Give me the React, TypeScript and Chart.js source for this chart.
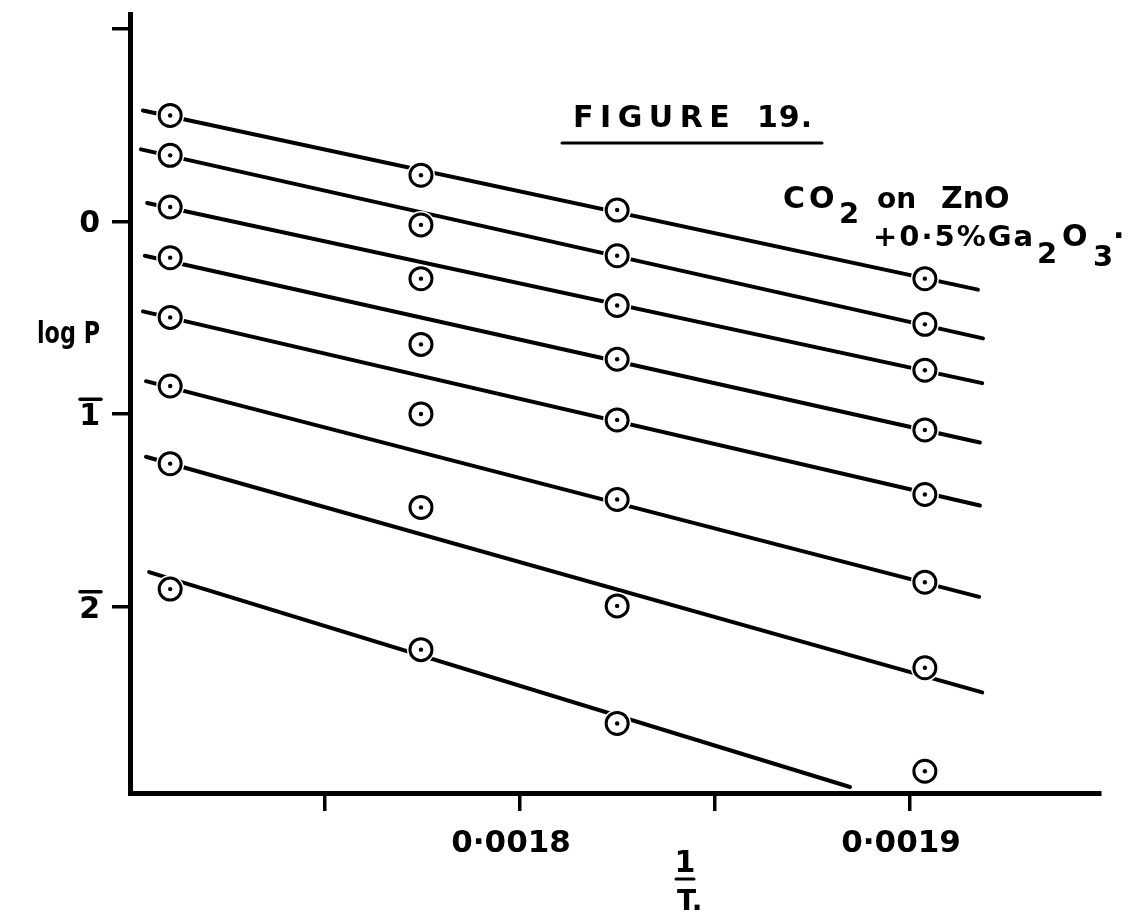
import React, { useEffect, useRef } from 'react';
import { Chart, registerables } from 'chart.js';

Chart.register(...registerables);

// 1/T values of the four temperature columns
const invT = [0.0017103, 0.0017746, 0.0018249, 0.0019038];

// log P readings in each column (top to bottom)
const logP_col1 = [0.55, 0.343, 0.075, -0.188, -0.498, -0.854, -1.257, -1.908];
const logP_col2 = [0.24, -0.018, -0.297, -0.638, -0.999, -1.484, -2.222];
const logP_col3 = [0.059, -0.178, -0.436, -0.715, -1.03, -1.443, -1.995, -2.605];
const logP_col4 = [-0.297, -0.534, -0.772, -1.082, -1.417, -1.872, -2.316, -2.853];
const columns = [logP_col1, logP_col2, logP_col3, logP_col4];

// straight lines drawn through the points (isosteres)
const fitStartX = [0.0017033, 0.0017028, 0.0017044, 0.0017038, 0.0017033, 0.0017041, 0.0017041, 0.0017049];
const fitStartY = [0.576, 0.374, 0.096, -0.178, -0.467, -0.829, -1.221, -1.82];
const fitEndX = [0.0019174, 0.0019187, 0.0019185, 0.0019179, 0.0019179, 0.0019177, 0.0019185, 0.0018846];
const fitEndY = [-0.354, -0.607, -0.839, -1.147, -1.474, -1.948, -2.444, -2.935];

// axis ticks
const xTickValues = [0.00175, 0.0018, 0.00185, 0.0019];
const xTickLabels = ['', '0·0018', '', '0·0019'];
const yTickValues = [1, 0, -1, -2];
const yTickLabels = ['', '0', '1', '2'];
// bar-notation (negative characteristic) marks on the y tick labels
const yTickBarred = [false, false, true, true];

const FONT = 'DejaVu Sans';
const Y_LABEL_OFFSET = 3;

const annotations = {
  id: 'annotations',
  afterDraw(chart: any) {
    const ctx = chart.ctx as CanvasRenderingContext2D;
    ctx.save();
    ctx.fillStyle = '#000';
    ctx.strokeStyle = '#000';
    ctx.textBaseline = 'alphabetic';
    const txt = (s: string, x: number, y: number, size: number, spacing = 0, align: CanvasTextAlign = 'left') => {
      ctx.font = `bold ${size}px "${FONT}"`;
      (ctx as any).letterSpacing = `${spacing}px`;
      ctx.textAlign = align;
      ctx.fillText(s, x, y);
    };
    const bar = (x1: number, x2: number, y: number, w = 3) => {
      ctx.lineWidth = w;
      ctx.lineCap = 'round';
      ctx.beginPath();
      ctx.moveTo(x1, y);
      ctx.lineTo(x2, y);
      ctx.stroke();
    };
    // overbars on y tick labels (bar notation for log characteristic)
    const ys = chart.scales.y;
    yTickValues.forEach((v, i) => {
      if (!yTickBarred[i]) return;
      const py = ys.getPixelForValue(v) + Y_LABEL_OFFSET;
      bar(80, 101, py - 18, 3.5);
    });
    // Title
    txt('FIGURE', 573, 127, 30, 6.5);
    txt('19.', 757, 127, 30, 1);
    bar(562, 822, 143, 3);
    // Sample description
    txt('CO', 783, 208, 30, 4);
    txt('2', 839, 223, 29, 0);
    txt('on', 877, 208, 28, 0);
    txt('ZnO', 941, 208, 30, 0);
    txt('+0·5%Ga', 873, 246, 29, 2);
    txt('2', 1037, 263, 29, 0);
    txt('O', 1062, 246, 30, 0);
    txt('3', 1093, 266, 29, 0);
    txt('·', 1113, 246, 30, 0);
    // y-axis label (tall, narrow lettering)
    ctx.save();
    ctx.translate(100, 343);
    ctx.scale(0.72, 1);
    txt('log P', 0, 0, 31, 0, 'right');
    ctx.restore();
    // x-axis label (1 over T.)
    txt('1', 685, 872, 30, 0, 'center');
    bar(676, 694, 879, 3);
    txt('T.', 677, 910, 28, 0, 'left');
    ctx.restore();
  },
};

export default function App() {
  const ref = useRef<HTMLCanvasElement | null>(null);

  useEffect(() => {
    if (!ref.current) return;
    const points: { x: number; y: number }[] = [];
    columns.forEach((col, i) => col.forEach((v) => points.push({ x: invT[i], y: v })));

    const lineSets = fitStartX.map((_, i) => ({
      type: 'line' as const,
      data: [
        { x: fitStartX[i], y: fitStartY[i] },
        { x: fitEndX[i], y: fitEndY[i] },
      ],
      borderColor: '#000',
      borderWidth: 4,
      borderCapStyle: 'round',
      pointRadius: 0,
      fill: false,
      order: 4,
    }));

    const chart = new Chart(ref.current, {
      type: 'scatter',
      data: {
        datasets: [
          ...lineSets,
          {
            data: points,
            pointRadius: 14,
            backgroundColor: '#fff',
            borderWidth: 0,
            order: 3,
          },
          {
            data: points,
            pointRadius: 11,
            backgroundColor: '#fff',
            borderColor: '#000',
            borderWidth: 3,
            order: 2,
          },
          {
            data: points,
            pointRadius: 2.2,
            backgroundColor: '#000',
            borderWidth: 0,
            order: 1,
          },
        ] as any,
      },
      options: {
        responsive: false,
        animation: false,
        events: [],
        layout: { padding: { top: 10, right: 41, left: 0, bottom: 0 } },
        plugins: { legend: { display: false }, tooltip: { enabled: false } },
        scales: {
          x: {
            type: 'linear',
            min: 0.0017,
            max: 0.0019487,
            afterBuildTicks: (s: any) => {
              s.ticks = xTickValues.map((v) => ({ value: v }));
            },
            afterFit: (s: any) => {
              s.height = 122;
              s.paddingLeft = 0;
              s.paddingRight = 0;
            },
            ticks: {
              callback: (_v: any, i: number) => xTickLabels[i],
              font: { family: FONT, size: 31, weight: 'bold' },
              color: '#000',
              padding: 14,
              labelOffset: -9,
              maxRotation: 0,
              autoSkip: false,
            },
            grid: { drawOnChartArea: false, drawTicks: true, tickLength: 18, lineWidth: 3.5, color: '#000' },
            border: { display: true, width: 5, color: '#000' },
          },
          y: {
            type: 'linear',
            min: -2.966,
            max: 1.0764,
            afterBuildTicks: (s: any) => {
              s.ticks = yTickValues.map((v) => ({ value: v }));
            },
            afterFit: (s: any) => {
              s.width = 130;
              s.paddingTop = 0;
              s.paddingBottom = 0;
            },
            ticks: {
              callback: (_v: any, i: number) => yTickLabels[i],
              font: { family: FONT, size: 30, weight: 'bold' },
              color: '#000',
              padding: 12,
              labelOffset: Y_LABEL_OFFSET,
              autoSkip: false,
            },
            grid: { drawOnChartArea: false, drawTicks: true, tickLength: 18, lineWidth: 3.5, color: '#000' },
            border: { display: true, width: 5, color: '#000' },
          },
        },
      } as any,
      plugins: [annotations],
    });
    return () => chart.destroy();
  }, []);

  return (
    <div style={{ position: 'fixed', left: 0, top: 0, width: 1141, height: 915, background: '#fff' }}>
      <canvas ref={ref} width={1141} height={915} style={{ display: 'block' }} />
    </div>
  );
}
